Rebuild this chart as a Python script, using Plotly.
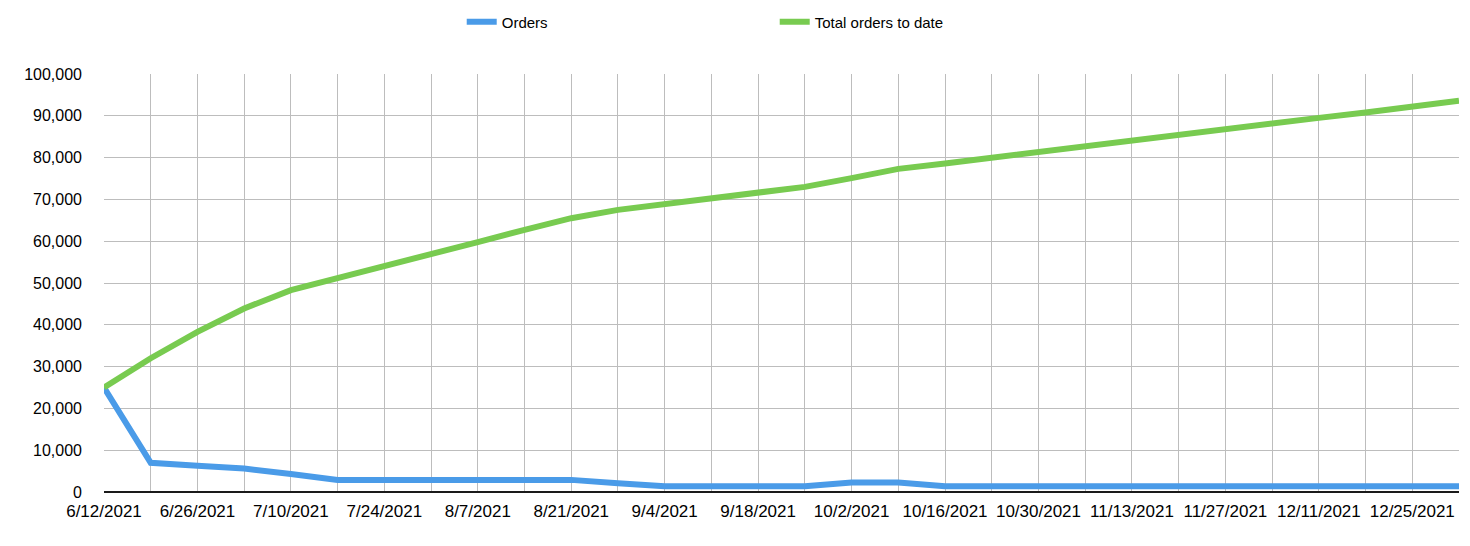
import plotly.graph_objects as go
import pandas as pd

# Weekly dates (6/12/2021 .. 1/1/2022)
dates = pd.date_range("2021-06-12", periods=30, freq="7D")

orders = [25000, 7000, 6300, 5600, 4300, 2900, 2900, 2900, 2900, 2900,
          2900, 2100, 1400, 1400, 1400, 1400, 2300, 2300, 1400, 1350,
          1350, 1350, 1350, 1350, 1350, 1350, 1350, 1350, 1350, 1350]

total_orders = [25000, 32000, 38300, 43900, 48300, 51100, 54000, 56900, 59800, 62700,
                65500, 67500, 68900, 70300, 71700, 73000, 75100, 77300, 78600, 80000,
                81300, 82700, 84000, 85400, 86800, 88100, 89500, 90800, 92200, 93600]

y_ticks = [0, 10000, 20000, 30000, 40000, 50000, 60000, 70000, 80000, 90000, 100000]

BLUE = "#4A9BE8"
GREEN = "#78CB50"
FONT = "Liberation Sans, Arial, Helvetica, sans-serif"

fig = go.Figure()
fig.add_trace(go.Scatter(x=dates, y=orders, mode="lines", name="Orders",
                         line=dict(color=BLUE, width=6)))
fig.add_trace(go.Scatter(x=dates, y=total_orders, mode="lines", name="Total orders to date",
                         line=dict(color=GREEN, width=6)))

fig.update_layout(
    width=1470, height=546,
    margin=dict(l=104, r=11, t=74, b=54),
    paper_bgcolor="white", plot_bgcolor="white",
    font=dict(family=FONT, size=16, color="#000000"),
    showlegend=True,
    legend=dict(orientation="h", x=0.264, xanchor="left",
                yref="container", y=1 - 22 / 546, yanchor="middle",
                font=dict(size=15, color="#000000"),
                entrywidthmode="pixels", entrywidth=268,
                bgcolor="rgba(0,0,0,0)"),
    hovermode=False,
)

fig.update_xaxes(
    type="date",
    range=[dates[0], dates[-1]],
    tick0=dates[0], dtick=14 * 86400000,
    tickformat="%-m/%-d/%Y",
    showgrid=True, gridcolor="#BDBDBD", gridwidth=1,
    minor=dict(dtick=7 * 86400000, tick0=dates[0], showgrid=True,
               gridcolor="#BDBDBD", gridwidth=1),
    showline=False, zeroline=False, ticks="",
    ticklabelstandoff=7,
    tickfont=dict(size=17, color="#000000"),
)
fig.update_yaxes(
    range=[0, 100000],
    tickvals=y_ticks,
    tickformat=",d",
    showgrid=True, gridcolor="#BDBDBD", gridwidth=1,
    zeroline=True, zerolinecolor="#1a1a1a", zerolinewidth=2,
    showline=False, ticks="",
    ticklabelstandoff=21,
    tickfont=dict(size=16, color="#000000"),
)

fig.write_html("out.html")
